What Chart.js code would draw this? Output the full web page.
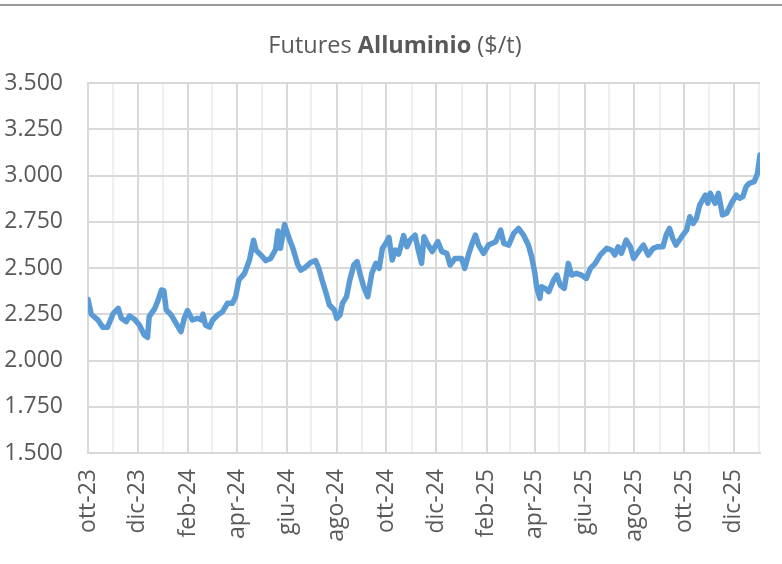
<!DOCTYPE html>
<html lang="it">
<head>
<meta charset="utf-8">
<title>Futures Alluminio</title>
<script src="https://cdn.jsdelivr.net/npm/chart.js@4.4.1/dist/chart.umd.min.js"></script>
<style>
  html, body { margin: 0; padding: 0; background: #fff; }
  #box { position: relative; width: 782px; height: 564px; overflow: hidden; }
  #bordo { position: absolute; left: 0; top: 4px; width: 782px; height: 0; border-top: 2px solid #9a9a9a; }
  #titolo {
    position: absolute; left: 0; top: 29px; width: 790px; text-align: center;
    font-family: "Open Sans", sans-serif; font-size: 23.5px; line-height: 30px; color: #595959;
  }
  #titolo b { font-weight: 700; }
  canvas { position: absolute; left: 0; top: 0; }
</style>
</head>
<body>
<div id="box">
  <canvas id="grafico" width="782" height="564"></canvas>
  <div id="bordo"></div>
  <div id="titolo">Futures <b>Alluminio</b> ($/t)</div>
</div>
<script>
// giorni dal 1 ottobre 2023
var giorni = [0, 4, 12, 18, 24, 31, 37, 41, 47, 51, 57, 63, 69, 73, 75, 82, 86, 90, 93, 96,
  102, 108, 114, 118, 122, 128, 134, 139, 141, 144, 149, 153, 159, 165, 171, 177, 181, 185, 192, 198,
  203, 206, 212, 218, 224, 230, 233, 236, 241, 247, 251, 257, 261, 267, 273, 279, 283, 287, 292, 296,
  302, 305, 309, 312, 317, 321, 326, 330, 334, 338, 343, 348, 353, 357, 361, 365, 369, 373, 377, 381,
  387, 391, 395, 401, 405, 409, 412, 416, 422, 429, 434, 440, 444, 450, 458, 462, 467, 471, 475, 479,
  485, 491, 500, 506, 510, 516, 522, 528, 534, 540, 544, 548, 550, 554, 556, 562, 565, 571, 575, 579,
  584, 589, 593, 599, 605, 611, 616, 622, 628, 636, 642, 646, 650, 654, 660, 665, 669, 675, 681, 687,
  693, 699, 705, 709, 713, 717, 721, 728, 734, 738, 742, 746, 750, 757, 760, 763, 769, 773, 778, 783,
  789, 795, 799, 803, 807, 811, 817, 821, 824];

// prezzo alluminio, $/t
var prezzi = [2330, 2250, 2220, 2180, 2180, 2255, 2282, 2228, 2210, 2241, 2223, 2192, 2138, 2125, 2237, 2282, 2327, 2381, 2378, 2273,
  2246, 2201, 2156, 2228, 2270, 2219, 2228, 2219, 2251, 2192, 2180, 2219, 2246, 2264, 2309, 2309, 2345, 2435, 2471, 2543,
  2650, 2597, 2570, 2540, 2552, 2600, 2700, 2606, 2735, 2655, 2610, 2520, 2489, 2505, 2530, 2540, 2498, 2435, 2363, 2300,
  2273, 2228, 2246, 2309, 2345, 2435, 2516, 2534, 2462, 2399, 2345, 2471, 2525, 2498, 2606, 2633, 2665, 2543, 2597, 2575,
  2675, 2615, 2651, 2678, 2597, 2525, 2669, 2633, 2588, 2642, 2588, 2579, 2516, 2552, 2552, 2498, 2579, 2633, 2678, 2624,
  2579, 2624, 2642, 2705, 2633, 2624, 2687, 2714, 2678, 2624, 2561, 2471, 2399, 2336, 2399, 2385, 2372, 2435, 2462, 2408,
  2390, 2525, 2462, 2471, 2462, 2444, 2498, 2525, 2570, 2606, 2597, 2570, 2615, 2579, 2651, 2615, 2552, 2588, 2624, 2570,
  2606, 2615, 2615, 2678, 2714, 2660, 2624, 2669, 2705, 2777, 2741, 2768, 2840, 2894, 2850, 2904, 2850, 2904, 2787, 2796,
  2850, 2894, 2877, 2886, 2940, 2958, 2967, 3012, 3111];

// inizio di ogni mese (giorni dal 1 ottobre 2023) e relative etichette
var inizioMese = [0, 31, 61, 92, 123, 152, 183, 213, 244, 274, 305, 336, 366, 397, 427, 458, 489, 517,
  548, 578, 609, 639, 670, 701, 731, 762, 792, 823];
var etichetteMese = ['ott-23', 'nov-23', 'dic-23', 'gen-24', 'feb-24', 'mar-24', 'apr-24', 'mag-24', 'giu-24',
  'lug-24', 'ago-24', 'set-24', 'ott-24', 'nov-24', 'dic-24', 'gen-25', 'feb-25', 'mar-25', 'apr-25', 'mag-25',
  'giu-25', 'lug-25', 'ago-25', 'set-25', 'ott-25', 'nov-25', 'dic-25', 'gen-26'];

function formatoIt(v) {
  var migliaia = Math.floor(v / 1000);
  var resto = String(v % 1000).padStart(3, '0');
  return migliaia + '.' + resto;
}

var punti = giorni.map(function(g, i) { return { x: g, y: prezzi[i] }; });

var font = { family: '"Open Sans", sans-serif', size: 23 };

new Chart(document.getElementById('grafico').getContext('2d'), {
  type: 'line',
  data: {
    datasets: [{
      label: 'Alluminio',
      data: punti,
      borderColor: '#5b9bd5',
      borderWidth: 5.5,
      pointRadius: 0,
      tension: 0,
      borderJoinStyle: 'round',
      borderCapStyle: 'round',
      fill: false
    }]
  },
  options: {
    responsive: false,
    animation: false,
    layout: { padding: { top: 83, right: 22, left: 0, bottom: 0 } },
    plugins: { legend: { display: false }, tooltip: { enabled: false } },
    scales: {
      x: {
        type: 'linear',
        min: 0,
        max: 824,
        afterBuildTicks: function(scale) {
          scale.ticks = inizioMese.map(function(g) { return { value: g }; });
        },
        afterFit: function(scale) {
          scale.height = 111;
          scale.paddingLeft = 0;
          scale.paddingRight = 0;
        },
        ticks: {
          autoSkip: false,
          minRotation: 90,
          maxRotation: 90,
          padding: 16,
          color: '#595959',
          font: font,
          callback: function(value) {
            var i = inizioMese.indexOf(value);
            if (i < 0 || i % 2 !== 0) return '';
            return etichetteMese[i];
          }
        },
        grid: {
          drawTicks: false,
          lineWidth: 2,
          color: function(ctx) {
            if (!ctx.tick) return '#d9d9d9';
            var i = inizioMese.indexOf(ctx.tick.value);
            return i % 2 === 0 ? '#d9d9d9' : '#efefef';
          }
        },
        border: { color: '#d9d9d9', width: 2 }
      },
      y: {
        min: 1500,
        max: 3500,
        afterFit: function(scale) {
          scale.width = 88;
          scale.paddingTop = 0;
          scale.paddingBottom = 0;
        },
        ticks: {
          stepSize: 250,
          padding: 25,
          color: '#595959',
          font: font,
          callback: function(v) { return formatoIt(v); }
        },
        grid: { drawTicks: false, lineWidth: 2, color: '#d9d9d9' },
        border: { color: '#d9d9d9', width: 2 }
      }
    }
  }
});
</script>
</body>
</html>
